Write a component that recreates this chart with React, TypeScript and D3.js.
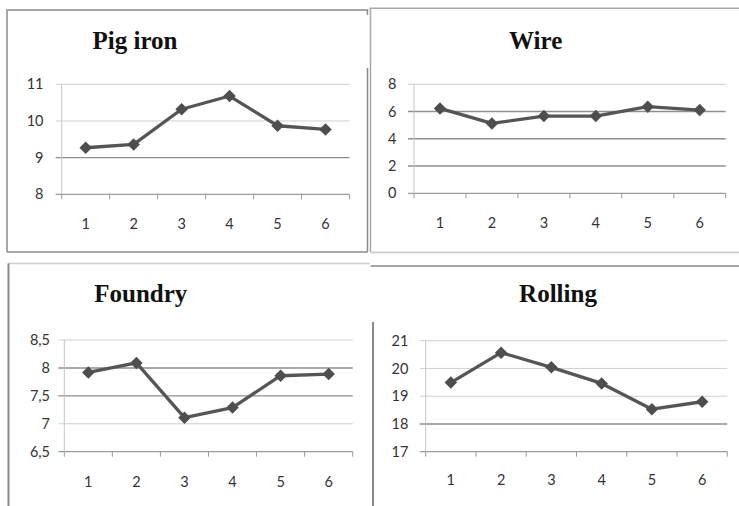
import React from "react";
import * as d3 from "d3";

const categories = ["1", "2", "3", "4", "5", "6"];

const pigIronValues = [9.27, 9.36, 10.32, 10.68, 9.87, 9.77];
const pigIronTicks = [8, 9, 10, 11];

const wireValues = [6.23, 5.13, 5.67, 5.67, 6.36, 6.11];
const wireTicks = [0, 2, 4, 6, 8];

const foundryValues = [7.92, 8.09, 7.11, 7.29, 7.86, 7.89];
const foundryTicks = [6.5, 7, 7.5, 8, 8.5];

const rollingValues = [19.49, 20.57, 20.04, 19.46, 18.53, 18.8];
const rollingTicks = [17, 18, 19, 20, 21];

const titles = ["Pig iron", "Wire", "Foundry", "Rolling"];

type Panel = {
  title: string;
  values: number[];
  ticks: number[];
  dark: number[];
  x0: number;
  x1: number;
  yTop: number;
  yBot: number;
  titleX: number;
  titleY: number;
  labelRight: number;
  xLabelY: number;
  comma?: boolean;
};

const panels: Panel[] = [
  {
    title: titles[0], values: pigIronValues, ticks: pigIronTicks, dark: [9],
    x0: 61.7, x1: 349.5, yTop: 84.3, yBot: 194.3,
    titleX: 135, titleY: 49.3, labelRight: 43.5, xLabelY: 224,
  },
  {
    title: titles[1], values: wireValues, ticks: wireTicks, dark: [2, 4, 6],
    x0: 414, x1: 725.7, yTop: 84.3, yBot: 193.3,
    titleX: 535.7, titleY: 49.3, labelRight: 396.5, xLabelY: 222.7,
  },
  {
    title: titles[2], values: foundryValues, ticks: foundryTicks, dark: [8, 7.5],
    x0: 64.3, x1: 352.7, yTop: 340, yBot: 451.7,
    titleX: 140.8, titleY: 301.7, labelRight: 50, xLabelY: 481.7, comma: true,
  },
  {
    title: titles[3], values: rollingValues, ticks: rollingTicks, dark: [18],
    x0: 425.7, x1: 727.3, yTop: 340.7, yBot: 451.7,
    titleX: 558, titleY: 301.7, labelRight: 408.3, xLabelY: 480,
  },
];

const diamond = d3.symbol().type(d3.symbolSquare).size(78)();

function ChartPanel({ p }: { p: Panel }) {
  const x = d3.scaleBand<string>().domain(categories).range([p.x0, p.x1]).padding(0);
  const y = d3
    .scaleLinear()
    .domain([d3.min(p.ticks) as number, d3.max(p.ticks) as number])
    .range([p.yBot, p.yTop]);
  const cx = (c: string) => (x(c) as number) + x.bandwidth() / 2;
  const line = d3
    .line<number>()
    .x((_, i) => cx(categories[i]))
    .y((v) => y(v));
  const fmt = (v: number) => (p.comma ? String(v).replace(".", ",") : String(v));
  const boundaries = categories.map((c) => x(c) as number).concat([p.x1]);
  const minT = d3.min(p.ticks) as number;
  return (
    <g>
      <text
        x={p.titleX}
        y={p.titleY}
        textAnchor="middle"
        fontFamily="'Liberation Serif', 'Times New Roman', serif"
        fontWeight="bold"
        fontSize={25}
        fill="#111"
      >
        {p.title}
      </text>
      {p.ticks.map((t) => (
        <line
          key={"g" + t}
          x1={p.x0 - 6}
          x2={p.x1}
          y1={y(t)}
          y2={y(t)}
          stroke={t === minT ? "#9a9a9a" : p.dark.includes(t) ? "#8e8e8e" : "#cfcfcf"}
          strokeWidth={t === minT ? 1.2 : p.dark.includes(t) ? 1.4 : 1}
        />
      ))}
      <line x1={p.x0} x2={p.x0} y1={p.yTop} y2={p.yBot} stroke="#c4c4c4" strokeWidth={1} />
      {boundaries.map((b, i) => (
        <line key={"t" + i} x1={b} x2={b} y1={p.yBot} y2={p.yBot + 5} stroke="#9a9a9a" strokeWidth={1} />
      ))}
      {p.ticks.map((t) => (
        <text
          key={"l" + t}
          x={p.labelRight}
          y={y(t)}
          dy="0.35em"
          textAnchor="end"
          fontFamily="Lato, 'Open Sans', sans-serif"
          fontSize={14.5}
          fill="#333"
        >
          {fmt(t)}
        </text>
      ))}
      {categories.map((c) => (
        <text
          key={"x" + c}
          x={cx(c)}
          y={p.xLabelY}
          dy="0.35em"
          textAnchor="middle"
          fontFamily="Lato, 'Open Sans', sans-serif"
          fontSize={14.5}
          fill="#333"
        >
          {c}
        </text>
      ))}
      <path d={line(p.values) || ""} fill="none" stroke="#555" strokeWidth={3.3} strokeLinejoin="round" />
      {p.values.map((v, i) => (
        <path
          key={"m" + i}
          d={diamond || ""}
          transform={`translate(${cx(categories[i])},${y(v)}) rotate(45)`}
          fill="#4e4e4e"
        />
      ))}
    </g>
  );
}

export default function App() {
  return (
    <svg
      width={739}
      height={506}
      style={{ position: "absolute", left: 0, top: 0, background: "#fff" }}
    >
      <rect x={0} y={0} width={739} height={506} fill="#fff" />
      <g fill="none" strokeWidth={1.5}>
        <polyline points="7,252 7,10 367.5,10 367.5,15" stroke="#8a8a8a" />
        <line x1={367.5} x2={367.5} y1={68} y2={252} stroke="#8a8a8a" />
        <line x1={7} x2={367.5} y1={252} y2={252} stroke="#8a8a8a" />
        <line x1={369.5} x2={739} y1={8.3} y2={8.3} stroke="#a8a8a8" />
        <line x1={370.5} x2={370.5} y1={8.3} y2={252} stroke="#a8a8a8" />
        <line x1={370.5} x2={739} y1={252.5} y2={252.5} stroke="#c8c8c8" />
        <line x1={8} x2={370} y1={263.5} y2={263.5} stroke="#d0d0d0" />
        <line x1={8.5} x2={8.5} y1={263.5} y2={506} stroke="#8a8a8a" strokeWidth={2} />
        <line x1={370.5} x2={739} y1={266} y2={266} stroke="#8a8a8a" />
        <line x1={373} x2={373} y1={322} y2={506} stroke="#8a8a8a" strokeWidth={2} />
      </g>
      {panels.map((p) => (
        <ChartPanel key={p.title} p={p} />
      ))}
    </svg>
  );
}
